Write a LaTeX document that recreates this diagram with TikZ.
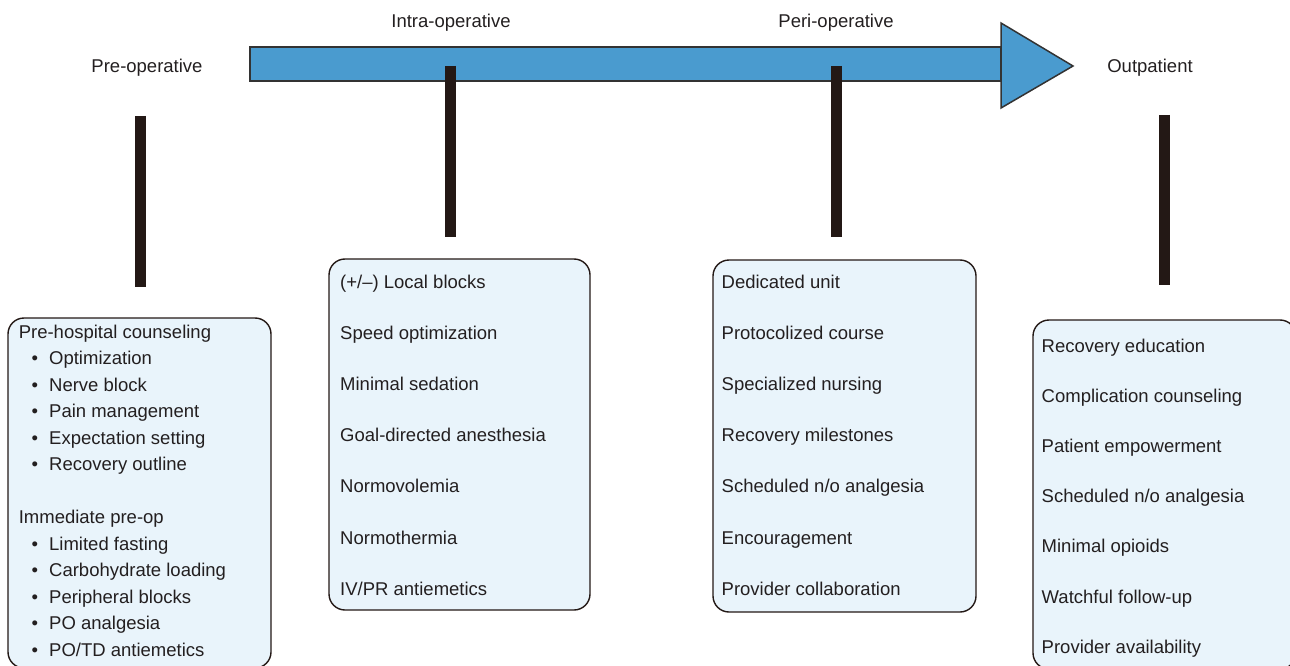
\documentclass[tikz,border=0pt]{standalone}
\usepackage{fontspec}
\setmainfont{Liberation Sans}
\usepackage{tikz}
\definecolor{azzurro}{RGB}{74,155,207}
\definecolor{nerobar}{RGB}{35,24,21}
\definecolor{fondobox}{RGB}{233,244,251}
\definecolor{bordofreccia}{RGB}{51,51,51}
\definecolor{testo}{RGB}{35,31,32}
\tikzstyle{boxfase} = [rectangle,rounded corners=16pt,draw=nerobar,line width=1.4pt,fill=fondobox,inner sep=0pt]
\tikzstyle{voce} = [anchor=base west,inner sep=0pt,text=testo]
\tikzstyle{etichetta} = [anchor=base,inner sep=0pt,text=testo]
\tikzstyle{barra} = [line width=11pt,draw=nerobar]
\tikzstyle{freccia} = [fill=azzurro,draw=bordofreccia,line width=1.5pt]

\begin{document}
\begin{tikzpicture}[x=1pt,y=-1pt]
\tikzstyle{every node}=[font=\fontsize{18.5}{22}\selectfont]

% 1pt = 1 pixel of the reference
\useasboundingbox (0,0) rectangle (1290,666);

% timeline arrow
\draw[freccia] (250,47) rectangle (1001,81);
\draw[freccia] (1001,23) -- (1073,66) -- (1001,108) -- cycle;

\node (preLbl)   [etichetta] at (147,72.6) {Pre-operative};
\node (intraLbl) [etichetta] at (451,27.6) {Intra-operative};
\node (periLbl)  [etichetta] at (836,27.6) {Peri-operative};
\node (outLbl)   [etichetta] at (1150,72.6) {Outpatient};

\coordinate (preTop)   at (140.5,116);
\coordinate (preBot)   at (140.5,287);
\coordinate (intraTop) at (450.5,66);
\coordinate (intraBot) at (450.5,237);
\coordinate (periTop)  at (836,66);
\coordinate (periBot)  at (836,237);
\coordinate (outTop)   at (1164.5,115);
\coordinate (outBot)   at (1164.5,285);

\draw[barra] (preTop) -- (preBot);
\draw[barra] (intraTop) -- (intraBot);
\draw[barra] (periTop) -- (periBot);
\draw[barra] (outTop) -- (outBot);

\node (preBox)   [boxfase,minimum width=263pt,minimum height=350pt] at (139.5,493) {};
\node (intraBox) [boxfase,minimum width=261pt,minimum height=351pt] at (459.5,434.5) {};
\node (periBox)  [boxfase,minimum width=263pt,minimum height=352pt] at (844.5,436) {};
\node (outBox)   [boxfase,minimum width=263pt,minimum height=349pt] at (1164.5,494.5) {};

% pre-operative
\node (pre1)  [voce] at (18.6,338)   {Pre-hospital counseling};
\node (pre2)  [voce] at (31.5,364.5) {•\hspace{11pt}Optimization};
\node (pre3)  [voce] at (31.5,391)   {•\hspace{11pt}Nerve block};
\node (pre4)  [voce] at (31.5,417.5) {•\hspace{11pt}Pain management};
\node (pre5)  [voce] at (31.5,444)   {•\hspace{11pt}Expectation setting};
\node (pre6)  [voce] at (31.5,470.5) {•\hspace{11pt}Recovery outline};
\node (pre7)  [voce] at (18.6,523.5) {Immediate pre-op};
\node (pre8)  [voce] at (31.5,550)   {•\hspace{11pt}Limited fasting};
\node (pre9)  [voce] at (31.5,576.5) {•\hspace{11pt}Carbohydrate loading};
\node (pre10) [voce] at (31.5,603)   {•\hspace{11pt}Peripheral blocks};
\node (pre11) [voce] at (31.5,629.5) {•\hspace{11pt}PO analgesia};
\node (pre12) [voce] at (31.5,656)   {•\hspace{11pt}PO/TD antiemetics};

% intra-operative
\node (intra1) [voce] at (340,288)   {(+/–) Local blocks};
\node (intra2) [voce] at (340,339.2) {Speed optimization};
\node (intra3) [voce] at (340,390.4) {Minimal sedation};
\node (intra4) [voce] at (340,441.6) {Goal-directed anesthesia};
\node (intra5) [voce] at (340,492.8) {Normovolemia};
\node (intra6) [voce] at (340,544)   {Normothermia};
\node (intra7) [voce] at (340,595.2) {IV/PR antiemetics};

% peri-operative
\node (peri1) [voce] at (721.5,288)   {Dedicated unit};
\node (peri2) [voce] at (721.5,339.2) {Protocolized course};
\node (peri3) [voce] at (721.5,390.4) {Specialized nursing};
\node (peri4) [voce] at (721.5,441.6) {Recovery milestones};
\node (peri5) [voce] at (721.5,492.8) {Scheduled n/o analgesia};
\node (peri6) [voce] at (721.5,544)   {Encouragement};
\node (peri7) [voce] at (721.5,595.2) {Provider collaboration};

% outpatient
\node (out1) [voce] at (1041.5,352)   {Recovery education};
\node (out2) [voce] at (1041.5,402.2) {Complication counseling};
\node (out3) [voce] at (1041.5,452.4) {Patient empowerment};
\node (out4) [voce] at (1041.5,502.6) {Scheduled n/o analgesia};
\node (out5) [voce] at (1041.5,552.8) {Minimal opioids};
\node (out6) [voce] at (1041.5,603)   {Watchful follow-up};
\node (out7) [voce] at (1041.5,653.2) {Provider availability};

\end{tikzpicture}
\end{document}
